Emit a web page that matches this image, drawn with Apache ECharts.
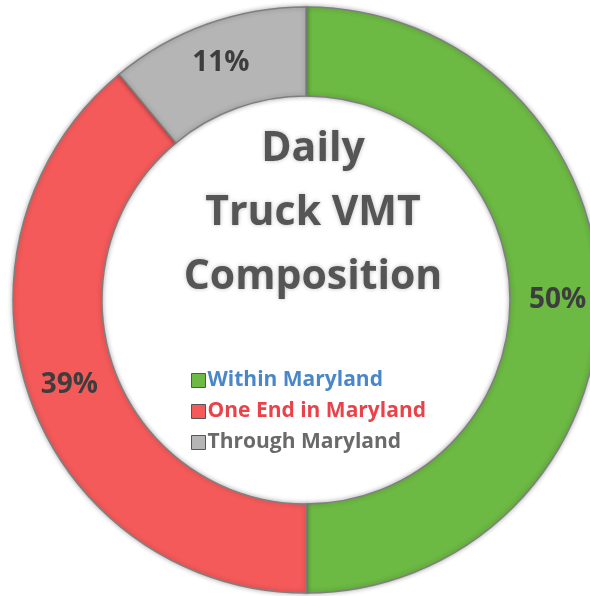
<!DOCTYPE html>
<html><head><meta charset="utf-8">
<script src="https://cdn.jsdelivr.net/npm/echarts@6/dist/echarts.min.js"></script>
<style>html,body{margin:0;padding:0;background:#fff}#c{width:590px;height:596px}</style>
</head><body><div id="c"></div>
<script>
const categories = ["Within Maryland", "One End in Maryland", "Through Maryland"];
const values = [50, 39, 11];
const sliceColors = ["#6cb943", "#f55a5a", "#b5b5b5"];
const legendTextColors = ["#4a87c8", "#ea4249", "#6a6a6a"];
const titleLines = ["Daily", "Truck VMT", "Composition"];

const chart = echarts.init(document.getElementById('c'), null, {renderer: 'canvas'});
chart.setOption({
  backgroundColor: '#ffffff',
  animation: false,
  title: {
    text: titleLines.join('\n'),
    left: 308, top: 112, textAlign: 'center',
    textStyle: {
      fontFamily: 'Open Sans', fontWeight: 'bold', fontSize: 41, lineHeight: 64,
      color: '#555555', textShadowColor: 'rgba(0,0,0,0.25)', textShadowBlur: 4
    }
  },
  legend: {
    orient: 'vertical', left: 186, top: 365, itemGap: 10,
    itemWidth: 14, itemHeight: 14, icon: 'rect',
    textStyle: {fontFamily: 'Open Sans', fontWeight: 'bold', fontSize: 21, padding: [0,0,0,-3]},
    data: categories.map((c, i) => ({name: c, textStyle: {color: legendTextColors[i]},
      itemStyle: {borderColor: '#555', borderWidth: 1}}))
  },
  series: [{
    type: 'pie', center: [306, 300], radius: [204, 293],
    startAngle: 90, clockwise: true,
    label: {
      position: 'inside', formatter: '{c}%', color: '#3d3d3d',
      fontFamily: 'Open Sans', fontWeight: 'bold', fontSize: 28
    },
    labelLine: {show: false},
    itemStyle: {borderColor: '#7f7f7f', borderWidth: 1.5,
      shadowColor: 'rgba(0,0,0,0.3)', shadowBlur: 5},
    emphasis: {disabled: true},
    data: categories.map((c, i) => ({name: c, value: values[i], itemStyle: {color: sliceColors[i]}}))
  }]
});
</script></body></html>
